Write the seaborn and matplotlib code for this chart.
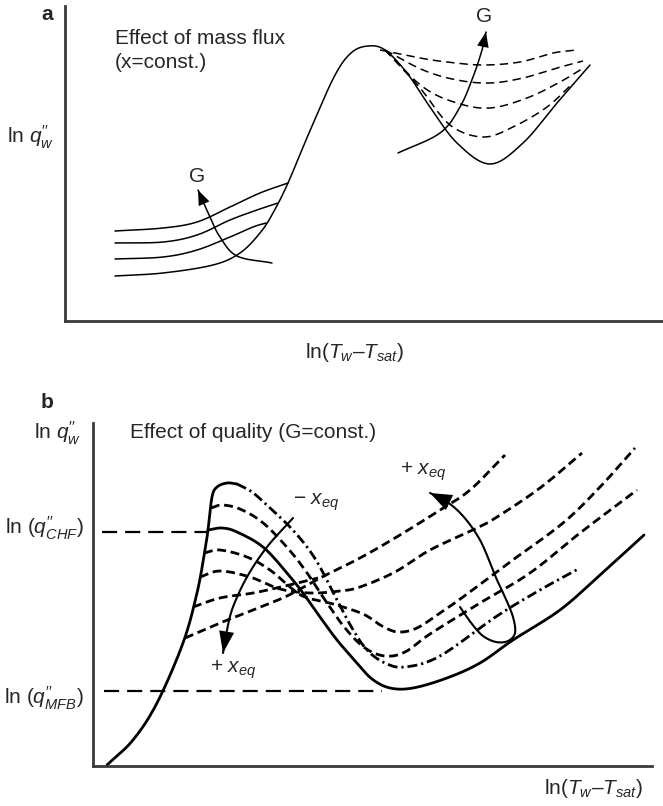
import numpy as np
import matplotlib
matplotlib.use("Agg")
import matplotlib.pyplot as plt
import seaborn as sns

# ---------------------------------------------------------------
# Schematic boiling curves (arbitrary units: ln(Tw-Tsat) vs ln q_w)
# ---------------------------------------------------------------

# Panel a: effect of mass flux (x = const.)
A_MAIN_X = [5.0, 9.8, 14.8, 17.5, 19.5, 20.8, 22.3, 24.4, 26.9, 28.6, 30.3, 32.0, 34.2, 36.5, 39.2, 42.5, 45.8, 49.2, 52.5]
A_MAIN_Y = [4.5, 4.8, 5.6, 6.8, 8.8, 10.8, 13.8, 18.8, 24.4, 26.8, 27.5, 27.1, 24.8, 21.4, 17.8, 15.7, 17.8, 21.8, 25.6]

A_LOW1_X = [5.0, 9.8, 13.2, 16.5, 19.5, 22.3]
A_LOW1_Y = [9.0, 9.3, 9.9, 11.4, 12.8, 13.8]
A_LOW2_X = [5.0, 9.8, 13.2, 16.5, 19.2, 21.3]
A_LOW2_Y = [7.8, 7.9, 8.6, 10.1, 11.1, 11.8]
A_LOW3_X = [5.0, 9.8, 13.2, 16.5, 18.8, 20.1]
A_LOW3_Y = [6.2, 6.4, 7.1, 8.4, 9.4, 9.8]

A_HIGH1_X = [31.5, 35.5, 38.2, 41.8, 45.5, 48.8, 51.2]
A_HIGH1_Y = [27.1, 26.3, 25.9, 25.6, 25.9, 26.8, 27.1]
A_HIGH2_X = [32.0, 35.8, 39.2, 42.5, 45.8, 49.2, 51.8]
A_HIGH2_Y = [27.1, 25.1, 24.1, 23.8, 24.3, 25.3, 26.0]
A_HIGH3_X = [32.0, 35.8, 39.2, 42.5, 46.2, 49.5, 52.0]
A_HIGH3_Y = [27.1, 23.4, 21.8, 21.3, 22.3, 23.9, 25.4]
A_HIGH4_X = [32.0, 35.5, 38.5, 41.8, 44.8, 48.2, 50.8]
A_HIGH4_Y = [27.1, 23.3, 19.6, 18.4, 19.4, 21.4, 23.8]

A_ARROW_LOW_X = [20.7, 17.2, 15.5, 14.5, 13.3]
A_ARROW_LOW_Y = [5.8, 6.5, 8.4, 10.4, 13.1]
A_ARROW_HIGH_X = [33.3, 37.5, 39.5, 40.8, 41.7, 42.1]
A_ARROW_HIGH_Y = [16.8, 18.8, 21.4, 24.4, 27.1, 28.9]

# Panel b: effect of quality (G = const.)
B_RISE_X = [1.4, 4.0, 6.4, 9.0, 10.4, 11.2, 11.5, 11.9, 12.4, 13.4, 14.4]
B_RISE_Y = [0.1, 2.6, 6.3, 12.3, 17.3, 21.6, 23.6, 26.9, 27.9, 28.3, 28.2]

B_C1_X = [14.4, 15.9, 17.7, 19.7, 21.4, 22.7, 24.4, 25.9, 27.4, 29.2, 31.2, 34.7, 40.4, 44.7, 48.7]
B_C1_Y = [28.2, 27.4, 25.8, 23.9, 21.9, 19.9, 16.6, 13.8, 11.6, 10.3, 9.9, 11.0, 15.0, 17.6, 19.8]
B_C2_X = [11.8, 12.9, 14.7, 16.9, 19.2, 21.2, 23.2, 25.2, 27.2, 29.2, 31.2, 33.7, 38.7, 43.7, 48.7, 54.4]
B_C2_Y = [25.8, 26.1, 25.7, 24.4, 22.1, 19.6, 16.6, 13.8, 11.8, 11.0, 11.4, 13.2, 16.3, 19.3, 23.3, 27.6]
B_C3_X = [11.5, 12.9, 14.4, 17.0, 19.4, 21.0, 22.7, 24.4, 26.4, 27.9, 29.7, 32.0, 35.4, 38.7, 42.0, 46.7, 50.7, 55.1]
B_C3_Y = [23.6, 23.8, 23.4, 21.9, 19.3, 17.3, 14.9, 12.6, 10.3, 8.7, 7.8, 7.8, 8.8, 10.3, 12.6, 15.6, 19.1, 23.1]
B_C4_X = [11.1, 12.7, 15.4, 17.7, 19.7, 21.2, 24.0, 27.0, 28.9, 30.5, 32.4, 34.7, 37.0, 41.7, 47.0, 50.7, 54.2]
B_C4_Y = [21.3, 21.6, 20.9, 19.6, 17.9, 16.9, 16.2, 15.2, 14.0, 13.4, 13.8, 15.3, 16.9, 20.4, 24.3, 27.9, 31.8]
B_C5_X = [10.7, 12.7, 15.7, 18.7, 21.7, 24.7, 26.7, 30.2, 33.7, 38.4, 40.4, 44.7, 48.9]
B_C5_Y = [18.9, 19.5, 18.9, 17.7, 17.3, 17.5, 17.9, 19.4, 21.6, 23.8, 24.9, 27.8, 31.3]
B_C6_X = [10.0, 12.7, 16.0, 19.2, 22.5]
B_C6_Y = [15.9, 16.8, 17.3, 18.0, 18.8]
B_C7_X = [9.2, 12.7, 16.0, 19.4, 22.7, 26.7, 30.7, 34.7, 37.7, 41.2]
B_C7_Y = [12.8, 14.3, 15.6, 17.0, 18.8, 20.8, 23.1, 25.6, 27.6, 31.1]

B_CHF_X = [0.9, 11.5]
B_CHF_Y = [23.4, 23.4]
B_MFB_X = [1.1, 28.9]
B_MFB_Y = [7.5, 7.5]

B_ARROW_L_X = [20.0, 17.4, 15.4, 14.0, 13.4, 13.0]
B_ARROW_L_Y = [24.8, 21.9, 18.9, 15.9, 13.6, 11.3]
B_ARROW_R_X = [36.7, 37.9, 39.0, 40.3, 41.5, 42.2, 42.0, 41.2, 40.4, 39.6, 38.7, 37.5, 36.2, 34.9, 33.7]
B_ARROW_R_Y = [15.9, 14.2, 13.0, 12.4, 12.5, 13.3, 14.9, 16.9, 18.6, 20.6, 22.6, 24.4, 25.8, 26.7, 27.3]

# ---------------------------------------------------------------
sns.set_theme(style="white")
plt.rcParams.update({
    "font.family": ["Liberation Sans", "DejaVu Sans"],
    "mathtext.fontset": "custom",
    "mathtext.rm": "Liberation Sans",
    "mathtext.it": "Liberation Sans:italic",
    "mathtext.bf": "Liberation Sans:bold",
})

W, H = 663, 806
fig = plt.figure(figsize=(W / 100, H / 100), dpi=100)


def px_box(left, top, right, bottom):
    return [left / W, 1 - bottom / H, (right - left) / W, (bottom - top) / H]


def smooth(xs, ys, n=24):
    """Catmull-Rom spline through the control points."""
    pts = np.column_stack([xs, ys]).astype(float)
    p = np.vstack([2 * pts[0] - pts[1], pts, 2 * pts[-1] - pts[-2]])
    out = []
    t = np.linspace(0, 1, n, endpoint=False)[:, None]
    for i in range(1, len(p) - 2):
        p0, p1, p2, p3 = p[i - 1], p[i], p[i + 1], p[i + 2]
        seg = 0.5 * ((2 * p1) + (-p0 + p2) * t
                     + (2 * p0 - 5 * p1 + 4 * p2 - p3) * t ** 2
                     + (-p0 + 3 * p1 - 3 * p2 + p3) * t ** 3)
        out.append(seg)
    out.append(pts[-1:])
    return np.vstack(out)


def curve(ax, xs, ys, lw, ls="-", smooth_it=True):
    pts = smooth(xs, ys) if smooth_it else np.column_stack([xs, ys])
    sns.lineplot(x=pts[:, 0], y=pts[:, 1], ax=ax, sort=False, estimator=None,
                 color="black", linewidth=lw)
    ax.lines[-1].set_linestyle(ls)
    ax.lines[-1].set_solid_capstyle("round")


def head(ax, xs, ys, length, width):
    pts = smooth(xs, ys)
    ax.annotate("", xy=(pts[-1, 0], pts[-1, 1]), xytext=(pts[-4, 0], pts[-4, 1]),
                arrowprops=dict(arrowstyle=f"-|>,head_length={length},head_width={width}",
                                color="black", lw=0.01, shrinkA=0, shrinkB=0))


def style_axes(ax):
    sns.despine(ax=ax)
    for side in ("left", "bottom"):
        ax.spines[side].set_color("#3a3a3a")
        ax.spines[side].set_linewidth(2.0)
    ax.set_xticks([])
    ax.set_yticks([])
    ax.set_xlabel("")
    ax.set_ylabel("")


FS = 15

# ---------------- panel a ----------------
ax_a = fig.add_axes(px_box(65, 6, 663, 321))
lw_a = 1.1
curve(ax_a, A_MAIN_X, A_MAIN_Y, lw_a)
for xs, ys in [(A_LOW1_X, A_LOW1_Y), (A_LOW2_X, A_LOW2_Y), (A_LOW3_X, A_LOW3_Y)]:
    curve(ax_a, xs, ys, lw_a)
for xs, ys in [(A_HIGH1_X, A_HIGH1_Y), (A_HIGH2_X, A_HIGH2_Y),
               (A_HIGH3_X, A_HIGH3_Y), (A_HIGH4_X, A_HIGH4_Y)]:
    curve(ax_a, xs, ys, lw_a, ls=(0, (5.5, 3.3)))
curve(ax_a, A_ARROW_LOW_X, A_ARROW_LOW_Y, lw_a)
head(ax_a, A_ARROW_LOW_X, A_ARROW_LOW_Y, 0.9, 0.35)
curve(ax_a, A_ARROW_HIGH_X, A_ARROW_HIGH_Y, lw_a)
head(ax_a, A_ARROW_HIGH_X, A_ARROW_HIGH_Y, 0.9, 0.35)

ax_a.text(13.2, 14.4, "G", fontsize=FS, ha="center", va="center")
ax_a.text(41.9, 30.4, "G", fontsize=FS, ha="center", va="center")
ax_a.text(5.0, 28.3, "Effect of mass flux", fontsize=FS, ha="left", va="center")
ax_a.text(5.0, 25.8, "(x=const.)", fontsize=FS, ha="left", va="center")
ax_a.set_xlim(0, 59.8)
ax_a.set_ylim(0, 31.5)
style_axes(ax_a)

fig.text(47 / W, 1 - 15 / H, "a", fontsize=FS, fontweight="bold", ha="center", va="center")
fig.text(31 / W, 1 - 137 / H, r"ln $q^{\prime\prime}_{w}$", fontsize=FS, ha="center", va="center")
fig.text(355 / W, 1 - 352 / H, r"ln($T_w$–$T_{sat}$)", fontsize=FS, ha="center", va="center")

# ---------------- panel b ----------------
ax_b = fig.add_axes(px_box(93, 423, 652, 766))
lw_b = 2.0
dash_b = (0, (3.2, 1.7))
dashdot_b = (0, (3.6, 1.4, 0.8, 1.4))

curve(ax_b, B_CHF_X, B_CHF_Y, 1.6, ls=(0, (6.8, 3.6)), smooth_it=False)
curve(ax_b, B_MFB_X, B_MFB_Y, 1.6, ls=(0, (6.8, 3.6)), smooth_it=False)

curve(ax_b, B_RISE_X, B_RISE_Y, lw_b)
curve(ax_b, B_C1_X, B_C1_Y, lw_b, ls=dashdot_b)
curve(ax_b, B_C2_X, B_C2_Y, lw_b, ls=dash_b)
curve(ax_b, B_C3_X, B_C3_Y, lw_b)
curve(ax_b, B_C4_X, B_C4_Y, lw_b, ls=dash_b)
curve(ax_b, B_C5_X, B_C5_Y, lw_b, ls=dash_b)
curve(ax_b, B_C6_X, B_C6_Y, lw_b, ls=dash_b)
curve(ax_b, B_C7_X, B_C7_Y, lw_b, ls=dash_b)

curve(ax_b, B_ARROW_L_X, B_ARROW_L_Y, 1.5)
head(ax_b, B_ARROW_L_X, B_ARROW_L_Y, 1.3, 0.45)
curve(ax_b, B_ARROW_R_X, B_ARROW_R_Y, 1.5)
head(ax_b, B_ARROW_R_X, B_ARROW_R_Y, 1.3, 0.5)

ax_b.text(3.7, 33.3, "Effect of quality (G=const.)", fontsize=FS, ha="left", va="center")
ax_b.text(20.0, 26.4, r"− $x_{eq}$", fontsize=FS, ha="left", va="center")
ax_b.text(11.7, 9.6, r"+ $x_{eq}$", fontsize=FS, ha="left", va="center")
ax_b.text(30.7, 29.4, r"+ $x_{eq}$", fontsize=FS, ha="left", va="center")
ax_b.set_xlim(0, 55.9)
ax_b.set_ylim(0, 34.3)
style_axes(ax_b)

fig.text(47 / W, 1 - 403 / H, "b", fontsize=FS, fontweight="bold", ha="center", va="center")
fig.text(58 / W, 1 - 433 / H, r"ln $q^{\prime\prime}_{w}$", fontsize=FS, ha="center", va="center")
fig.text(84 / W, 1 - 528 / H, r"ln ($q^{\prime\prime}_{CHF}$)", fontsize=FS, ha="right", va="center")
fig.text(84 / W, 1 - 698 / H, r"ln ($q^{\prime\prime}_{MFB}$)", fontsize=FS, ha="right", va="center")
fig.text(643 / W, 1 - 788 / H, r"ln($T_w$–$T_{sat}$)", fontsize=FS, ha="right", va="center")

fig.savefig("out.png", dpi=100, facecolor="white")
